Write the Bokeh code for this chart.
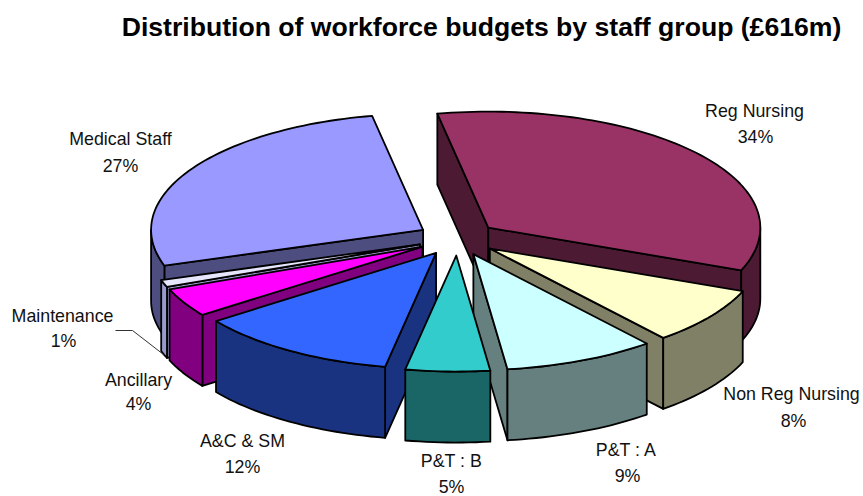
from math import sin, cos, radians
from bokeh.plotting import figure
from bokeh.models import Range1d
from bokeh.core.properties import value
from bokeh.embed import file_html
from bokeh.resources import INLINE

# Staff groups, clockwise from the first slice
categories = ["Reg Nursing", "Non Reg Nursing", "P&T : A", "P&T : B",
              "A&C & SM", "Ancillary", "Maintenance", "Medical Staff"]
shares = [34, 8, 9, 5, 12, 4, 1, 27]
top_colors = ["#993366", "#FFFFCC", "#CCFFFF", "#33CCCC",
              "#3366FF", "#FF00FF", "#E6E6FF", "#9999FF"]
wall_colors = ["#4D1A33", "#808066", "#668080", "#1A6666",
               "#1A3380", "#800080", "#9999CC", "#4D4D80"]
title_text = "Distribution of workforce budgets by staff group (£616m)"

# Projection of the tilted pie, in page pixels
WIDTH, HEIGHT = 863, 496
CX, CY = 457, 238
RX, RY = 272, 116
DEPTH = 71
EXPLODE = 0.147
FIRST_ANGLE = -10.8

# Label anchors: name centre x, name y, share centre x, share y
label_pos = {
    "Reg Nursing": (754, 110.5, 755, 136.5),
    "Non Reg Nursing": (791, 393.5, 793, 420.5),
    "P&T : A": (626, 449.5, 627, 475.5),
    "P&T : B": (451, 460.5, 451, 486.5),
    "A&C & SM": (242, 440.5, 242, 466.5),
    "Ancillary": (138, 379.5, 138, 403.5),
    "Maintenance": (62, 315.5, 63, 340.5),
    "Medical Staff": (120, 138.5, 120, 165.5),
}

p = figure(width=WIDTH, height=HEIGHT, output_backend="svg", toolbar_location=None,
           x_range=Range1d(0, WIDTH), y_range=Range1d(HEIGHT, 0),
           min_border=0, outline_line_color=None, border_fill_color="white",
           background_fill_color="white")
p.axis.visible = False
p.grid.visible = False


def point(ox, oy, deg):
    t = radians(deg)
    return ox + RX * sin(t), oy - RY * cos(t)


def arc(ox, oy, start, end):
    n = max(2, int((end - start) / 1.5) + 1)
    return [point(ox, oy, start + (end - start) * i / (n - 1)) for i in range(n)]


slices = []
angle = FIRST_ANGLE
for i, share in enumerate(shares):
    sweep = share * 3.6
    mid = radians(angle + sweep / 2)
    slices.append(dict(
        start=angle, end=angle + sweep,
        ox=CX + EXPLODE * RX * sin(mid), oy=CY - EXPLODE * RY * cos(mid),
        top=top_colors[i], wall=wall_colors[i],
    ))
    angle += sweep


def face(points, color):
    p.patch([q[0] for q in points], [q[1] for q in points], fill_color=color,
            line_color="black", line_width=1.8, line_join="round")


def draw_slice(s):
    ox, oy = s["ox"], s["oy"]
    start, end = s["start"], s["end"]
    # Side walls along the two radii, only where they face the viewer
    if sin(radians(start)) < 0:
        a = point(ox, oy, start)
        face([(ox, oy), a, (a[0], a[1] + DEPTH), (ox, oy + DEPTH)], s["wall"])
    if sin(radians(end)) > 0:
        b = point(ox, oy, end)
        face([(ox, oy), b, (b[0], b[1] + DEPTH), (ox, oy + DEPTH)], s["wall"])
    # Curved rim, limited to the near half of the ellipse
    lo, hi = max(start, 90), min(end, 270)
    if lo < hi:
        rim = arc(ox, oy, lo, hi)
        face(rim + [(x, y + DEPTH) for x, y in reversed(rim)], s["wall"])
    face([(ox, oy)] + arc(ox, oy, start, end), s["top"])


# Paint from the back of the pie to the front
for idx in (0, 7, 6, 5, 1, 2, 4, 3):
    draw_slice(slices[idx])

# Leader line for the smallest slice
p.line([115, 132, 163], [330, 330, 354], line_color="#333333", line_width=1)

font = value("Liberation Sans")
for name, share in zip(categories, shares):
    nx, ny, sx, sy = label_pos[name]
    p.text([nx, sx], [ny, sy], text=[name, f"{share}%"], text_font=font,
           text_font_size="17.8px", text_color="#111111", text_align="center",
           text_baseline="alphabetic")

p.text([481], [26], text=[title_text], text_font=font, text_font_size="26.6px",
       text_font_style="bold", text_color="black", text_align="center",
       text_baseline="alphabetic")

open("out.html", "w").write(file_html(p, INLINE))
